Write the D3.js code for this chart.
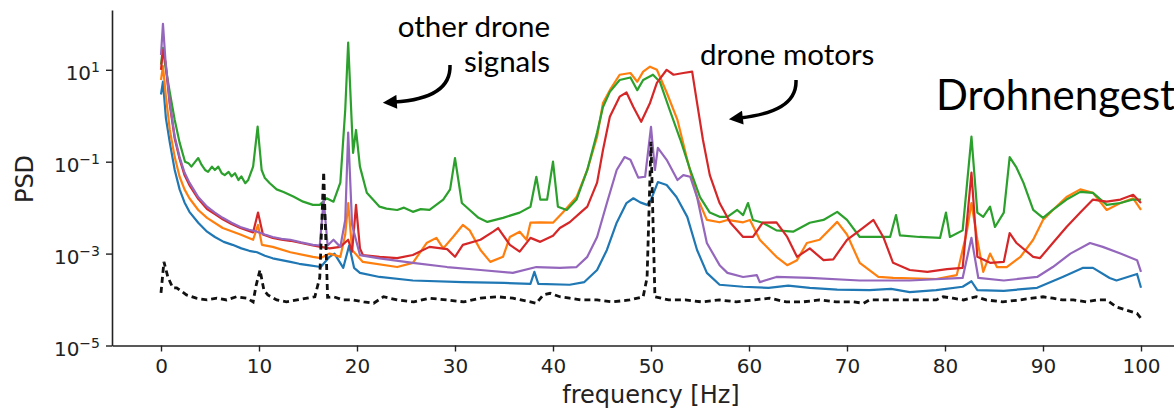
<!DOCTYPE html>
<html>
<head>
<meta charset="utf-8">
<script src="https://cdnjs.cloudflare.com/ajax/libs/d3/7.8.5/d3.min.js"></script>
<style>
  body { margin: 0; background: #fff; }
  svg { display: block; }
</style>
</head>
<body>
<div id="chart"></div>
<script>
// PSD curves: [frequency Hz, PSD]
var blue = [[0,2.9],[0.2,5.5],[0.5,8.9e-1],[0.9,2.6e-1],[1.4,6.6e-2],[1.9,2.5e-2],[2.4,1.3e-2],[2.9,8.1e-3],
  [3.8,4.7e-3],[4.7,3.0e-3],[5.5,2.3e-3],[6.4,1.8e-3],[7.3,1.55e-3],[8.2,1.3e-3],[9,1.15e-3],[9.8,1.07e-3],
  [10.6,9.0e-4],[11.4,7.9e-4],[12.3,7.2e-4],[13.2,6.6e-4],[14.1,6.0e-4],[15,5.6e-4],[16.3,5.1e-4],[17.2,8.5e-4],
  [17.7,1.0e-3],[18.6,4.9e-4],[19.2,1.5e-3],[19.7,4.9e-4],[20.3,3.8e-4],[22.3,3.1e-4],[25.7,2.6e-4],[30.8,2.4e-4],
  [35,2.3e-4],[37.7,2.2e-4],[38.1,4.0e-4],[38.5,2.2e-4],[41.7,2.1e-4],[43.2,2.4e-4],[44.5,4.4e-4],[45.5,1.2e-3],
  [46.5,4.7e-3],[47.5,1.26e-2],[48.2,1.6e-2],[48.9,1.3e-2],[49.6,1.15e-2],[50,1.5e-2],[50.7,3.6e-2],[51.6,3.1e-2],
  [52.6,1.7e-2],[53.7,6.3e-3],[54.7,1.2e-3],[55.7,3.8e-4],[57,2.1e-4],[59.4,1.9e-4],[62,1.8e-4],[64,2.0e-4],
  [66.2,1.8e-4],[69,1.65e-4],[72.3,1.6e-4],[74.5,1.7e-4],[76.4,1.45e-4],[79.1,1.6e-4],[81.8,1.9e-4],[82.7,2.5e-4],
  [83.3,1.6e-4],[86,1.55e-4],[89.4,1.8e-4],[92,3.1e-4],[94.1,4.9e-4],[95.1,4.9e-4],[96.8,2.95e-4],[97.5,2.6e-4],
  [99.6,3.6e-4],[100,1.8e-4]];

var orange = [[0,6.0],[0.2,12],[0.5,2.6],[0.9,4.9e-1],[1.4,1.26e-1],[1.9,4.7e-2],[2.4,2.5e-2],[2.9,1.6e-2],
  [3.8,8.9e-3],[4.7,6.0e-3],[6.3,3.6e-3],[8.1,2.6e-3],[9.4,2.0e-3],[9.9,4.2e-3],[10.3,1.55e-3],[11.4,1.4e-3],
  [13.2,1.07e-3],[15.5,8.5e-4],[16.3,8.0e-4],[17.2,1.0e-3],[18.3,8.5e-4],[18.8,2.6e-3],[19.1,1.26e-2],[19.5,1.2e-3],
  [20.6,6.6e-4],[24.1,5.1e-4],[25.7,6.3e-4],[27.1,1.7e-3],[28.1,2.2e-3],[28.8,1.3e-3],[29.8,2.3e-3],[30.8,4.2e-3],
  [31.5,3.2e-3],[32.6,1.2e-3],[33.6,6.6e-4],[34.9,8.5e-4],[35.6,2.3e-3],[36.6,3.0e-3],[37.3,2.0e-3],[37.7,4.7e-3],
  [38.7,4.8e-3],[40,4.7e-3],[41,7.8e-3],[42.4,1.7e-2],[43.5,6.6e-2],[44.5,3.5e-1],[45.1,1.9],[45.8,3.6],[46.8,7.8],
  [47.9,8.5],[48.6,5.5],[49.2,9.1],[49.9,11.7],[50.6,10],[51.6,3.2],[52.7,8.1e-1],[53.7,1.1e-1],[54.7,1.7e-2],
  [55.7,5.4e-3],[57,4.8e-3],[57.8,5.4e-3],[59.4,4.8e-3],[60.1,5.4e-3],[61.1,2.0e-3],[62.8,8.5e-4],[63.9,5.6e-4],
  [64.9,7.2e-4],[65.9,1.7e-3],[67.2,2.0e-3],[69,4.9e-3],[70,2.6e-3],[71.3,6.3e-4],[73.2,3.1e-4],[74.7,2.95e-4],
  [79.1,2.8e-4],[81.2,3.4e-4],[82.2,2.8e-3],[82.7,1.26e-2],[83.3,2.0e-3],[83.9,4.0e-4],[84.6,1.0e-3],[85.3,5.1e-4],
  [86.3,5.1e-4],[87.7,8.5e-4],[89,2.0e-3],[90,5.4e-3],[91,8.9e-3],[92.4,1.7e-2],[93.8,2.5e-2],[95.1,2.1e-2],
  [96.5,8.9e-3],[97.9,1.26e-2],[99.2,1.6e-2],[100,8.9e-3]];

var green = [[0,13],[0.2,30],[0.4,14],[0.9,3.2],[1.4,8.1e-1],[1.9,2.6e-1],[2.45,1.0e-1],[2.8,9.3e-2],
  [3.1,7.8e-2],[3.5,1.0e-1],[3.8,1.2e-1],[4.15,8.5e-2],[4.5,6.6e-2],[4.8,6.0e-2],[5.2,7.8e-2],[5.5,6.6e-2],
  [5.85,7.8e-2],[6.2,5.6e-2],[6.5,5.1e-2],[6.9,6.0e-2],[7.2,4.8e-2],[7.55,5.6e-2],[7.9,4.0e-2],[8.2,4.8e-2],
  [8.6,3.4e-2],[8.9,4.0e-2],[9.4,7.8e-2],[9.86,5.8e-1],[10.27,6.6e-2],[10.6,4.4e-2],[11.1,3.4e-2],[11.8,2.5e-2],
  [12.5,2.2e-2],[13.5,1.74e-2],[14.5,1.35e-2],[15.5,1.15e-2],[16.2,1.15e-2],[16.9,1.6e-2],[17.6,1.35e-2],
  [18.3,3.5e-2],[18.8,1.35],[19.1,39],[19.6,1.55e-1],[19.9,4.9e-1],[20.3,7.8e-2],[21,2.1e-2],[22.3,1.05e-2],
  [23,9.5e-3],[24.1,8.9e-3],[24.8,1.0e-2],[25.7,8.1e-3],[26.5,9.3e-3],[27.4,8.9e-3],[28.8,1.5e-2],[29.5,2.5e-2],
  [30,1.2e-1],[30.7,1.26e-2],[31.5,8.9e-3],[32.4,6.0e-3],[33.3,4.9e-3],[34.9,6.0e-3],[36.6,7.8e-3],[37.7,1.05e-2],
  [38.3,4.7e-2],[38.7,1.5e-2],[39.4,1.5e-2],[40,1.0e-1],[40.5,1.05e-2],[41.4,8.9e-3],[42.4,1.5e-2],[43.5,6.6e-2],
  [44.5,4.3e-1],[45.1,1.55],[45.8,3.3],[46.8,6.0],[47.9,6.8],[48.6,3.6],[49.2,6.0],[50.2,7.8],[50.9,5.5],
  [51.9,1.35],[53,3.0e-1],[54,6.6e-2],[55,1.7e-2],[56,7.8e-3],[57,6.3e-3],[57.8,6.3e-3],[58.8,8.9e-3],
  [59.4,6.9e-3],[59.9,1.26e-2],[60.4,5.4e-3],[61.4,4.7e-3],[62.8,3.2e-3],[64.5,3.0e-3],[66.2,4.7e-3],
  [67.6,5.4e-3],[69,8.1e-3],[70,5.4e-3],[71.3,2.3e-3],[73,2.3e-3],[74.4,2.3e-3],[75,6.9e-3],[75.4,2.5e-3],
  [77.4,2.3e-3],[79.5,2.2e-3],[80.1,7.8e-3],[80.5,2.3e-3],[81.8,3.2e-3],[82.7,3.5e-1],[83.3,7.8e-3],[83.9,6.3e-3],
  [84.6,1.05e-2],[85.1,3.8e-3],[86,7.8e-3],[86.6,1.26e-1],[87.3,7.4e-2],[88,3.5e-2],[89,8.9e-3],[90,6.0e-3],
  [91,8.9e-3],[92.4,1.5e-2],[93.8,2.2e-2],[95.1,2.1e-2],[96.5,1.15e-2],[97.9,1.26e-2],[99.2,1.5e-2],[100,1.5e-2]];

var red = [[0,10],[0.2,27],[0.45,14.8],[0.9,1.74],[1.4,3.2e-1],[1.9,1.15e-1],[2.4,5.1e-2],[2.9,3.1e-2],
  [3.8,1.55e-2],[4.7,9.3e-3],[5.5,7.2e-3],[6.3,5.6e-3],[7.2,4.4e-3],[8.1,3.6e-3],[9.4,2.9e-3],[9.9,7.8e-3],
  [10.4,2.6e-3],[11.4,2.2e-3],[12.3,2.0e-3],[13.2,1.9e-3],[14.3,1.7e-3],[15.5,1.5e-3],[16.3,1.4e-3],[17.2,1.3e-3],
  [18.3,1.4e-3],[19.1,2.0e-3],[19.5,1.1e-3],[19.9,1.15e-2],[20.3,1.3e-3],[20.6,9.3e-4],[22.3,8.5e-4],[24.1,8.0e-4],
  [25.7,9.3e-4],[27.4,1.4e-3],[29.2,1.25e-3],[30,8.5e-4],[30.8,1.55e-3],[32.6,2.0e-3],[33.9,3.0e-3],[34.4,3.6e-3],
  [35.6,1.55e-3],[36.6,1.1e-3],[37.7,2.2e-3],[38.7,1.8e-3],[40,2.45e-3],[40.7,3.6e-3],[41.7,4.8e-3],[42.8,7.8e-3],
  [43.5,1.05e-2],[44.5,3.5e-2],[45.1,1.8e-1],[45.8,9.5e-1],[46.8,2.6],[47.5,3.2],[48.2,1.55],[49,7.4e-1],[49.9,1.9],
  [50.6,5.2],[51.6,10],[52.3,7.8],[53.3,8.5],[54.2,9.1],[54.7,1.9],[55.3,3.0e-1],[56,5.1e-2],[57,1.26e-2],
  [58.1,4.7e-3],[59.4,2.3e-3],[60.4,2.3e-3],[61.4,4.7e-3],[62.8,4.8e-3],[63.9,2.3e-3],[64.9,8.5e-4],[66.2,1.3e-3],
  [67.6,7.2e-4],[68.6,7.5e-4],[70,2.0e-3],[71.3,3.2e-3],[72.7,5.4e-3],[73.7,2.3e-3],[74.7,6.3e-4],[76.4,4.4e-4],
  [78.2,4.0e-4],[80.2,4.6e-4],[81.8,4.9e-4],[82.7,5.8e-2],[83.3,8.5e-4],[84.6,6.3e-4],[86,6.6e-4],[86.6,2.8e-3],
  [87.3,1.7e-3],[89,8.5e-4],[89.7,8.0e-4],[91,1.7e-3],[92.4,3.8e-3],[93.8,7.8e-3],[95.1,1.5e-2],[96.5,1.35e-2],
  [97.9,1.5e-2],[99.2,1.9e-2],[100,1.26e-2]];

var purple = [[0,21],[0.2,100],[0.45,16.6],[0.9,1.9],[1.4,3.5e-1],[1.9,1.26e-1],[2.4,5.8e-2],[2.9,3.5e-2],
  [3.8,1.7e-2],[4.7,1.05e-2],[5.5,7.8e-3],[6.3,6.0e-3],[7.2,4.7e-3],[8.1,3.8e-3],[9,3.3e-3],[9.8,3.0e-3],
  [10.6,2.6e-3],[11.4,2.3e-3],[12.3,2.1e-3],[13.2,2.0e-3],[14.3,1.75e-3],[15.5,1.55e-3],[16.2,1.5e-3],
  [16.6,1.5e-2],[17,1.5e-3],[17.6,2.0e-3],[18.3,1.4e-3],[18.8,5.4e-3],[19.1,4.3e-1],[19.5,4.2e-3],[20.3,9.3e-4],
  [22.3,7.9e-4],[25.7,6.3e-4],[29.2,5.1e-4],[32.6,4.4e-4],[35.9,3.8e-4],[38.3,5.1e-4],[40.7,4.9e-4],[42.4,5.1e-4],
  [43.5,8.5e-4],[44.5,2.3e-3],[45.5,1.26e-2],[46.5,6.6e-2],[47.3,1.26e-1],[47.9,1.1e-1],[48.7,4.5e-2],
  [49.4,4.7e-2],[50,5.7e-1],[50.4,6.6e-2],[50.7,2.0e-1],[51.6,1.1e-1],[52.7,4.0e-2],[53.3,5.1e-2],[54,4.7e-2],
  [54.7,1.7e-2],[55.7,1.7e-3],[57,5.6e-4],[57.8,3.8e-4],[59.4,3.1e-4],[60.8,3.4e-4],[61.1,2.4e-4],[62.8,3.1e-4],
  [66.2,2.95e-4],[71.3,2.6e-4],[76.4,2.6e-4],[81.8,2.95e-4],[82.7,2.2e-3],[83.4,2.95e-4],[86,2.6e-4],
  [89.4,3.1e-4],[91,5.1e-4],[92.8,1.0e-3],[94.8,1.7e-3],[96.1,1.4e-3],[97.9,1.0e-3],[99.6,7.2e-4],[100,4.0e-4]];

var noise = [[0,1.4e-4],[0.3,6.6e-4],[0.7,3.1e-4],[1.2,1.8e-4],[1.6,1.8e-4],[2.6,1.26e-4],[3.6,1.07e-4],
  [4.7,9.8e-5],[5.7,1.07e-4],[6.7,9.8e-5],[7.7,1.15e-4],[8.8,1.07e-4],[9.4,8.9e-5],[9.7,2.0e-4],[10.1,4.4e-4],
  [10.5,1.6e-4],[10.9,1.26e-4],[11.8,9.8e-5],[12.8,8.9e-5],[13.9,9.8e-5],[14.9,1.07e-4],[15.7,1.15e-4],
  [16.2,3.0e-4],[16.6,6.0e-2],[17,1.12e-4],[17.6,1.15e-4],[18.6,9.8e-5],[19.6,9.8e-5],[20.7,8.9e-5],[21.7,8.3e-5],
  [22.7,1.15e-4],[24.1,9.8e-5],[25.8,8.9e-5],[27.4,1.07e-4],[29.2,9.8e-5],[30.9,8.9e-5],[32.6,1.07e-4],
  [34.3,1.15e-4],[35.9,1.07e-4],[37.7,8.9e-5],[38.3,8.3e-5],[39,1.26e-4],[39.7,1.37e-4],[40.7,1.15e-4],
  [41.7,1.07e-4],[42.8,9.8e-5],[44.5,9.8e-5],[46.1,8.9e-5],[47.8,9.8e-5],[49.2,1.15e-4],[49.6,3.0e-4],[50,2.7e-1],
  [50.4,1.15e-4],[51.8,9.8e-5],[53.5,9.8e-5],[55.2,8.9e-5],[57,9.8e-5],[58.7,8.9e-5],[60.5,9.8e-5],[62.1,1.07e-4],
  [63.8,8.9e-5],[65.5,8.9e-5],[67.2,9.8e-5],[68.9,8.9e-5],[70.6,8.9e-5],[71.7,8.3e-5],[72.3,9.8e-5],[74,9.8e-5],
  [75.7,9.8e-5],[77.4,9.8e-5],[79.1,9.8e-5],[79.8,1.15e-4],[80.8,1.07e-4],[81.9,9.8e-5],[83.2,1.15e-4],
  [84.2,9.8e-5],[85.9,8.9e-5],[87.6,9.8e-5],[88.9,1.07e-4],[90,1.15e-4],[91,1.07e-4],[92,9.8e-5],[93.1,9.8e-5],
  [94.4,8.9e-5],[95.5,9.8e-5],[96.5,9.8e-5],[97.5,6.9e-5],[98.5,5.9e-5],[99.6,5.0e-5],[100,3.9e-5]];

var series = [
  {data: blue, color: "#1f77b4"},
  {data: orange, color: "#ff7f0e"},
  {data: green, color: "#2ca02c"},
  {data: red, color: "#d62728"},
  {data: purple, color: "#9467bd"}
];

var xTicks = [0, 10, 20, 30, 40, 50, 60, 70, 80, 90, 100];
var yTicks = [1e1, 1e-1, 1e-3, 1e-5];
var yTickExp = ["1", "\u22121", "\u22123", "\u22125"];

var width = 1174, height = 412;

var svg = d3.select("#chart").append("svg")
  .attr("width", width)
  .attr("height", height)
  .style("font-family", "'DejaVu Sans', sans-serif");

var x = d3.scaleLinear().domain([-5, 105]).range([112, 1190]);
var y = d3.scaleLog().domain([1e-5, 200]).range([345.5, 10]);

// axes
svg.append("g")
  .attr("transform", "translate(0,345.5)")
  .call(d3.axisBottom(x).tickValues(xTicks).tickSize(6).tickSizeOuter(0).tickPadding(7).tickFormat(d3.format("d")));

var yAxis = svg.append("g")
  .attr("transform", "translate(112,0)")
  .call(d3.axisLeft(y).tickValues(yTicks).tickSize(6).tickSizeOuter(0).tickPadding(6).tickFormat(""));

yAxis.selectAll(".tick text").each(function(d, i) {
  var t = d3.select(this).attr("dy", 10);
  t.append("tspan").text("10");
  t.append("tspan").attr("dy", -8).attr("font-size", 14).text(yTickExp[i]);
});

svg.selectAll(".domain").attr("stroke", "#222").attr("stroke-width", 1.6);
svg.selectAll(".tick line").attr("stroke", "#222").attr("stroke-width", 1.4);
svg.selectAll(".tick text").attr("fill", "#222").attr("font-size", 20)
  .attr("font-family", "'DejaVu Sans', sans-serif");

svg.append("text")
  .attr("x", 651).attr("y", 403)
  .attr("text-anchor", "middle")
  .attr("font-size", 24).attr("fill", "#222")
  .text("frequency [Hz]");

svg.append("text")
  .attr("transform", "translate(33,179) rotate(-90)")
  .attr("text-anchor", "middle")
  .attr("font-size", 24).attr("fill", "#222")
  .text("PSD");

// curves
var line = d3.line()
  .x(function(d) { return x(d[0]); })
  .y(function(d) { return y(d[1]); });

svg.selectAll("path.psd")
  .data(series)
  .enter().append("path")
  .attr("class", "psd")
  .attr("d", function(d) { return line(d.data); })
  .attr("fill", "none")
  .attr("stroke", function(d) { return d.color; })
  .attr("stroke-width", 2.2)
  .attr("stroke-linejoin", "round");

svg.append("path")
  .attr("d", line(noise))
  .attr("fill", "none")
  .attr("stroke", "#111")
  .attr("stroke-width", 2.8)
  .attr("stroke-dasharray", "6,4");

// annotations
svg.append("defs").append("marker")
  .attr("id", "head")
  .attr("markerUnits", "userSpaceOnUse")
  .attr("viewBox", "0 0 10 10")
  .attr("refX", 2).attr("refY", 5)
  .attr("markerWidth", 16).attr("markerHeight", 14)
  .attr("orient", "auto")
  .append("path").attr("d", "M0,0 L10,5 L0,10 z").attr("fill", "#000");

var arrows = [
  "M450,65 C451,90 428,100 394,102",
  "M796,80 C797,104 774,114 740,118"
];
svg.selectAll("path.arrow").data(arrows).enter().append("path")
  .attr("class", "arrow")
  .attr("d", function(d) { return d; })
  .attr("fill", "none").attr("stroke", "#000").attr("stroke-width", 3.5)
  .attr("marker-end", "url(#head)");

var notes = svg.append("g").attr("font-family", "Lato, 'Open Sans', sans-serif").attr("fill", "#000");
notes.append("text").attr("x", 550).attr("y", 37).attr("text-anchor", "end").attr("font-size", 29.5).text("other drone");
notes.append("text").attr("x", 550).attr("y", 72).attr("text-anchor", "end").attr("font-size", 29.5).text("signals");
notes.append("text").attr("x", 700).attr("y", 65).attr("font-size", 29.5).text("drone motors");
notes.append("text").attr("x", 936).attr("y", 110).attr("font-size", 42).text("Drohnengest");
</script>
</body>
</html>
